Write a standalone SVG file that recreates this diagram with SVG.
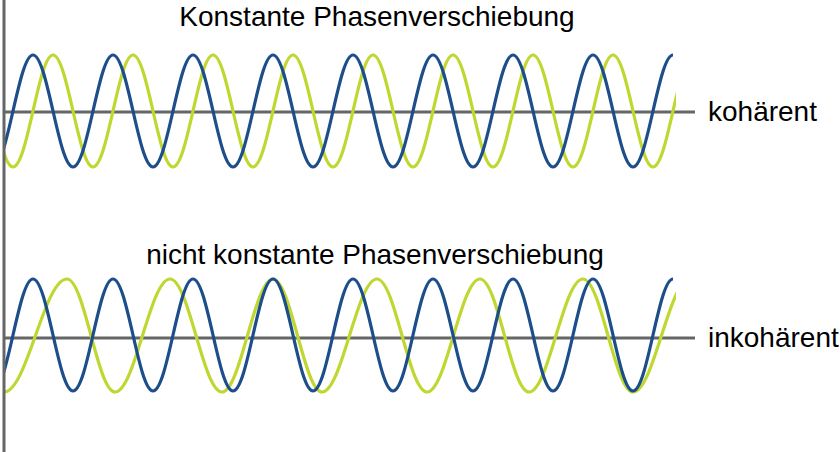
<svg xmlns="http://www.w3.org/2000/svg" width="840" height="452" viewBox="0 0 840 452">
<style>
.ax{stroke:#666;stroke-width:3;fill:none}
.b{stroke:#1b4e8b;stroke-width:3.2;fill:none}
.g{stroke:#bfd730;stroke-width:3.2;fill:none}
text{font-family:"Liberation Sans",Arial,sans-serif;font-size:28px;fill:#000}
</style>
<defs>
<clipPath id="c"><rect x="4" y="0" width="672" height="452"/></clipPath>
<path id="bw" d="M -7 167 C 7.57 167 18.43 55 33 55 S 58.43 167 73 167 S 98.43 55 113 55 S 138.43 167 153 167 S 178.43 55 193 55 S 218.43 167 233 167 S 258.43 55 273 55 S 298.43 167 313 167 S 338.43 55 353 55 S 378.43 167 393 167 S 418.43 55 433 55 S 458.43 167 473 167 S 498.43 55 513 55 S 538.43 167 553 167 S 578.43 55 593 55 S 618.43 167 633 167 S 658.43 55 673 55"/>
</defs>
<rect width="840" height="452" fill="#fff"/>
<g id="top">
<line class="ax" x1="4" y1="112" x2="695" y2="112"/>
<g clip-path="url(#c)">
<path class="g" transform="translate(20,0)" d="M -47 55 C -32.43 55 -21.57 167 -7 167 S 18.43 55 33 55 S 58.43 167 73 167 S 98.43 55 113 55 S 138.43 167 153 167 S 178.43 55 193 55 S 218.43 167 233 167 S 258.43 55 273 55 S 298.43 167 313 167 S 338.43 55 353 55 S 378.43 167 393 167 S 418.43 55 433 55 S 458.43 167 473 167 S 498.43 55 513 55 S 538.43 167 553 167 S 578.43 55 593 55 S 618.43 167 633 167 S 658.43 55 673 55"/>
<use href="#bw" class="b"/>
</g>
<text x="377" y="26" text-anchor="middle">Konstante Phasenverschiebung</text>
<text x="708" y="121">kohärent</text>
</g>
<g id="bottom">
<line class="ax" x1="4" y1="338" x2="695" y2="338"/>
<g clip-path="url(#c)">
<path class="g" d="M -51 279 C -31 279 -16 392 4 392 C 27 392 44 279 67 279 C 84.5 279 97.5 392 115 392 C 135 392 150 279 170 279 C 189 279 203 392 222 392 C 240.6 392 254.4 279 273 279 C 290.8 279 304.2 392 322 392 C 342 392 357 279 377 279 C 395.2 279 408.8 392 427 392 C 446.3 392 460.7 279 480 279 C 497.8 279 511.2 392 529 392 C 548.7 392 563.3 279 583 279 C 601.2 279 614.8 392 633 392 C 653.8 392 669.2 279 690 279"/>
<use href="#bw" class="b" transform="translate(0,224)"/>
</g>
<text x="375" y="264" text-anchor="middle">nicht konstante Phasenverschiebung</text>
<text x="708" y="347">inkohärent</text>
</g>
<line class="ax" x1="4" y1="0" x2="4" y2="452"/>
</svg>
